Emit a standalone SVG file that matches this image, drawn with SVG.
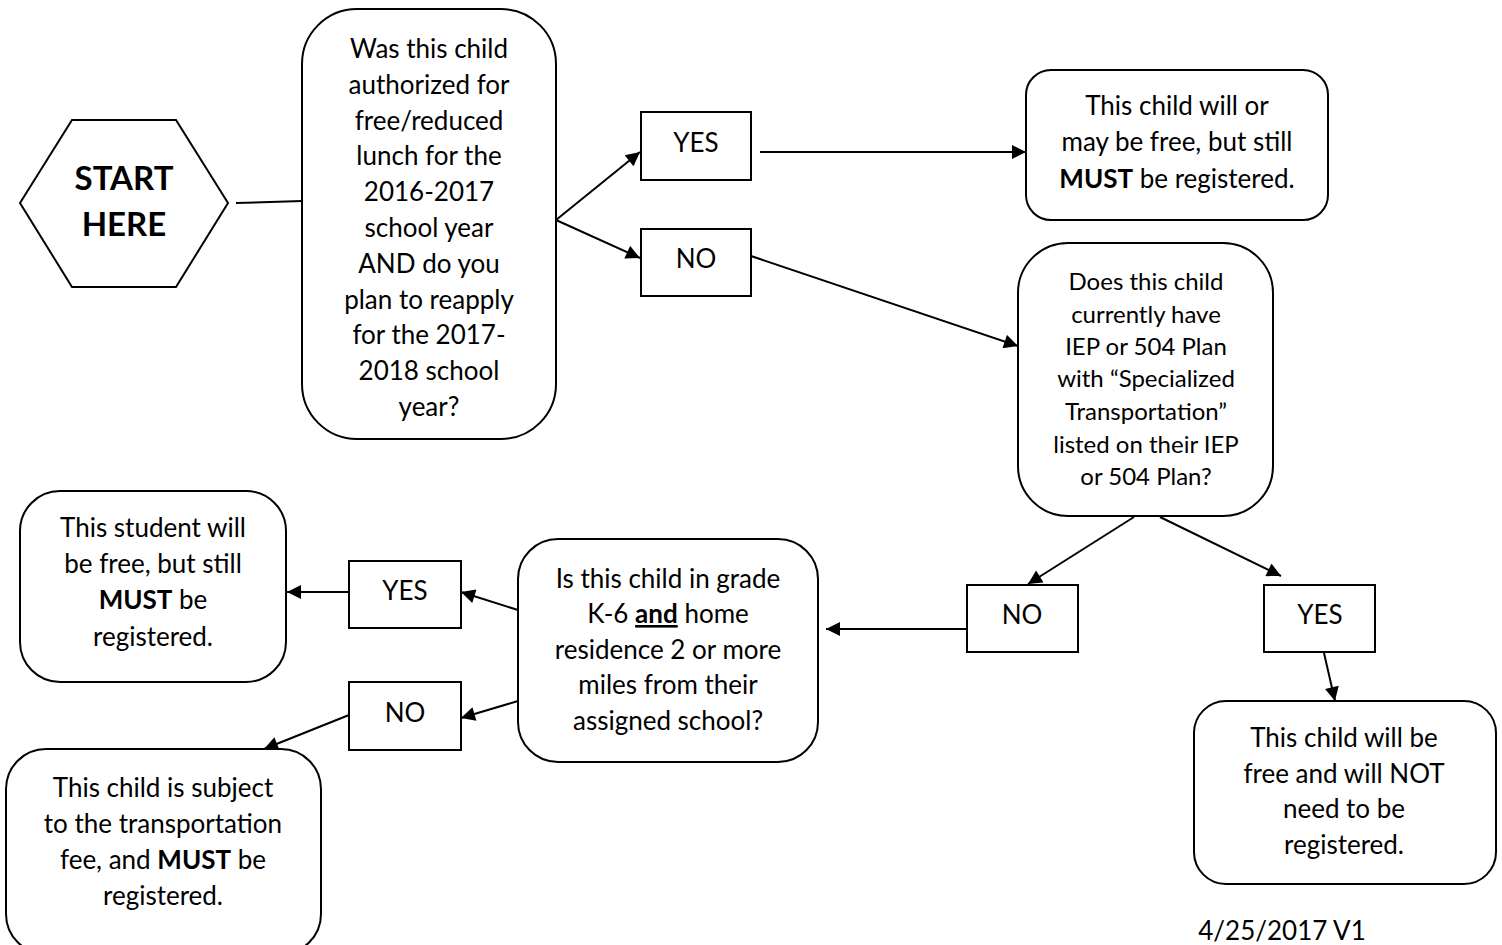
<svg xmlns="http://www.w3.org/2000/svg" width="1502" height="945" viewBox="0 0 1502 945">
<defs>
<style>
.n{fill:#fff;stroke:#000;stroke-width:2}
.t{font-family:Lato,"Liberation Sans",sans-serif;font-size:26px;fill:#000;text-anchor:middle}
.s{font-size:24px}
.b{font-weight:bold}
.c{stroke:#000;stroke-width:2;fill:none}
</style>
<marker id="ah" viewBox="0 0 10 10" refX="10" refY="5" markerWidth="8" markerHeight="7" orient="auto" markerUnits="strokeWidth">
<path d="M0,0 L10,5 L0,10 z" fill="#000"/>
</marker>
</defs>
<rect width="1502" height="945" fill="#fff"/>
<g id="connectors">
<line class="c" x1="236" y1="203" x2="302" y2="201"/>
<line class="c" x1="556" y1="220" x2="640" y2="152" marker-end="url(#ah)"/>
<line class="c" x1="556" y1="220" x2="640" y2="258" marker-end="url(#ah)"/>
<line class="c" x1="760" y1="152" x2="1026" y2="152" marker-end="url(#ah)"/>
<line class="c" x1="751" y1="256" x2="1018" y2="346" marker-end="url(#ah)"/>
<line class="c" x1="1134" y1="517" x2="1028" y2="584" marker-end="url(#ah)"/>
<line class="c" x1="1160" y1="517" x2="1281" y2="576" marker-end="url(#ah)"/>
<line class="c" x1="1324" y1="653" x2="1335" y2="701" marker-end="url(#ah)"/>
<line class="c" x1="967" y1="629" x2="826" y2="629" marker-end="url(#ah)"/>
<line class="c" x1="518" y1="610" x2="461" y2="592" marker-end="url(#ah)"/>
<line class="c" x1="518" y1="701" x2="461" y2="718" marker-end="url(#ah)"/>
<line class="c" x1="349" y1="592" x2="287" y2="592" marker-end="url(#ah)"/>
<line class="c" x1="349" y1="715" x2="264" y2="749" marker-end="url(#ah)"/>
</g>
<g id="start">
<polygon class="n" points="20,203 72,120 176,120 228,203 176,287 72,287"/>
<text class="t b" style="font-size:33px" x="124" y="190">START</text>
<text class="t b" style="font-size:33px" x="124" y="236">HERE</text>
</g>
<g id="q1">
<rect class="n" x="302" y="9" width="254" height="430" rx="55"/>
<text class="t" x="429"><tspan x="429" y="58">Was this child</tspan><tspan x="429" y="94">authorized for</tspan><tspan x="429" y="130">free/reduced</tspan><tspan x="429" y="165">lunch for the</tspan><tspan x="429" y="201">2016-2017</tspan><tspan x="429" y="237">school year</tspan><tspan x="429" y="273">AND do you</tspan><tspan x="429" y="309">plan to reapply</tspan><tspan x="429" y="344">for the 2017-</tspan><tspan x="429" y="380">2018 school</tspan><tspan x="429" y="416">year?</tspan></text>
</g>
<g id="yes1">
<rect class="n" x="641" y="112" width="110" height="68"/>
<text class="t" x="696" y="152">YES</text>
</g>
<g id="no1">
<rect class="n" x="641" y="229" width="110" height="67"/>
<text class="t" x="696" y="268">NO</text>
</g>
<g id="r1">
<rect class="n" x="1026" y="70" width="302" height="150" rx="25"/>
<text class="t"><tspan x="1177" y="115">This child will or</tspan><tspan x="1177" y="151">may be free, but still</tspan><tspan x="1177" y="188"><tspan class="b">MUST</tspan> be registered.</tspan></text>
</g>
<g id="q2">
<rect class="n" x="1018" y="243" width="255" height="273" rx="50"/>
<text class="t s"><tspan x="1146" y="290">Does this child</tspan><tspan x="1146" y="323">currently have</tspan><tspan x="1146" y="355">IEP or 504 Plan</tspan><tspan x="1146" y="387">with “Specialized</tspan><tspan x="1146" y="420">Transportation”</tspan><tspan x="1146" y="453">listed on their IEP</tspan><tspan x="1146" y="485">or 504 Plan?</tspan></text>
</g>
<g id="no2">
<rect class="n" x="967" y="585" width="111" height="67"/>
<text class="t" x="1022" y="624">NO</text>
</g>
<g id="yes2">
<rect class="n" x="1264" y="585" width="111" height="67"/>
<text class="t" x="1320" y="624">YES</text>
</g>
<g id="r2">
<rect class="n" x="1194" y="701" width="302" height="183" rx="32"/>
<text class="t"><tspan x="1344" y="747">This child will be</tspan><tspan x="1344" y="783">free and will NOT</tspan><tspan x="1344" y="818">need to be</tspan><tspan x="1344" y="854">registered.</tspan></text>
</g>
<g id="q3">
<rect class="n" x="518" y="539" width="300" height="223" rx="40"/>
<text class="t"><tspan x="668" y="588">Is this child in grade</tspan><tspan x="668" y="623">K-6 <tspan class="b" text-decoration="underline">and</tspan> home</tspan><tspan x="668" y="659">residence 2 or more</tspan><tspan x="668" y="694">miles from their</tspan><tspan x="668" y="730">assigned school?</tspan></text>
</g>
<g id="yes3">
<rect class="n" x="349" y="561" width="112" height="67"/>
<text class="t" x="405" y="600">YES</text>
</g>
<g id="no3">
<rect class="n" x="349" y="682" width="112" height="68"/>
<text class="t" x="405" y="722">NO</text>
</g>
<g id="r3">
<rect class="n" x="20" y="491" width="266" height="191" rx="40"/>
<text class="t"><tspan x="153" y="537">This student will</tspan><tspan x="153" y="573">be free, but still</tspan><tspan x="153" y="609"><tspan class="b">MUST</tspan> be</tspan><tspan x="153" y="646">registered.</tspan></text>
</g>
<g id="r4">
<rect class="n" x="6" y="749" width="315" height="205" rx="40"/>
<text class="t"><tspan x="163" y="797">This child is subject</tspan><tspan x="163" y="833">to the transportation</tspan><tspan x="163" y="869">fee, and <tspan class="b">MUST</tspan> be</tspan><tspan x="163" y="905">registered.</tspan></text>
</g>
<g id="date">
<text class="t" x="1282" y="940">4/25/2017 V1</text>
</g>
</svg>
